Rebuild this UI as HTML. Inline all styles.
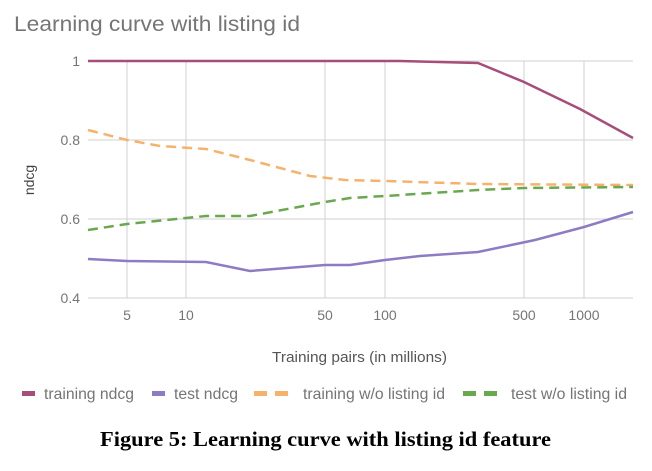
<!DOCTYPE html>
<html><head><style>body{margin:0;background:#fff}svg{display:block}</style></head><body>
<svg width="652" height="471" xmlns="http://www.w3.org/2000/svg" font-family="Liberation Sans, sans-serif">
<text x="14" y="31" font-size="21" fill="#757575" textLength="286" lengthAdjust="spacingAndGlyphs">Learning curve with listing id</text>
<g stroke="#d0d0d0" stroke-width="1">
<line x1="88" y1="61" x2="633" y2="61"/><line x1="88" y1="140" x2="633" y2="140"/><line x1="88" y1="219" x2="633" y2="219"/><line x1="88" y1="298" x2="633" y2="298"/>
<line x1="127" y1="61" x2="127" y2="298"/><line x1="186" y1="61" x2="186" y2="298"/><line x1="325" y1="61" x2="325" y2="298"/><line x1="385" y1="61" x2="385" y2="298"/><line x1="524" y1="61" x2="524" y2="298"/><line x1="584" y1="61" x2="584" y2="298"/>
</g>
<g font-size="14" fill="#757575" text-anchor="end">
<text x="80" y="66">1</text><text x="80" y="145">0.8</text><text x="80" y="224">0.6</text><text x="80" y="303">0.4</text></g>
<g font-size="14" fill="#757575" text-anchor="middle">
<text x="127" y="320">5</text><text x="186" y="320">10</text><text x="325" y="320">50</text><text x="385" y="320">100</text><text x="524" y="320">500</text><text x="584" y="320">1000</text></g>
<text x="272" y="362" font-size="15" fill="#555" textLength="175" lengthAdjust="spacingAndGlyphs">Training pairs (in millions)</text>
<text transform="translate(34,180) rotate(-90)" font-size="14" fill="#444" text-anchor="middle">ndcg</text>
<g fill="none" stroke-width="2.5">
<polyline stroke="#a64d79" points="88,61 400,61 478,63 524,82 580,109 633,138"/>
<polyline stroke="#8e7cc3" points="88,259 127,261 206,262 250,271 325,265 350,265 385,260 420,256 478,252 535,240 584,227 633,212"/>
<polyline stroke="#f6b26b" stroke-dasharray="10,6" points="88,130 127,140 160,146 206,149 250,160 310,176 345,180 385,181 478,184 633,185"/>
<polyline stroke="#6aa84f" stroke-dasharray="10,6" points="88,230 127,224 186,218 206,216 250,216 325,202 350,198 385,196 478,190 524,188 633,187"/>
</g>
<g font-size="16" fill="#757575">
<rect x="22" y="391" width="13" height="5" fill="#a64d79"/><text x="44" y="399" textLength="90" lengthAdjust="spacingAndGlyphs">training ndcg</text>
<rect x="152" y="391" width="13" height="5" fill="#8e7cc3"/><text x="174" y="399" textLength="64" lengthAdjust="spacingAndGlyphs">test ndcg</text>
<rect x="254" y="391" width="13" height="5" fill="#f6b26b"/><rect x="275" y="391" width="13" height="5" fill="#f6b26b"/><text x="303" y="399" textLength="142" lengthAdjust="spacingAndGlyphs">training w/o listing id</text>
<rect x="463" y="391" width="13" height="5" fill="#6aa84f"/><rect x="484" y="391" width="13" height="5" fill="#6aa84f"/><text x="511" y="399" textLength="116" lengthAdjust="spacingAndGlyphs">test w/o listing id</text>
</g>
<text x="100" y="446" font-family="Liberation Serif, serif" font-weight="bold" font-size="21" fill="#000" textLength="451" lengthAdjust="spacingAndGlyphs">Figure 5: Learning curve with listing id feature</text>
</svg>
</body></html>
